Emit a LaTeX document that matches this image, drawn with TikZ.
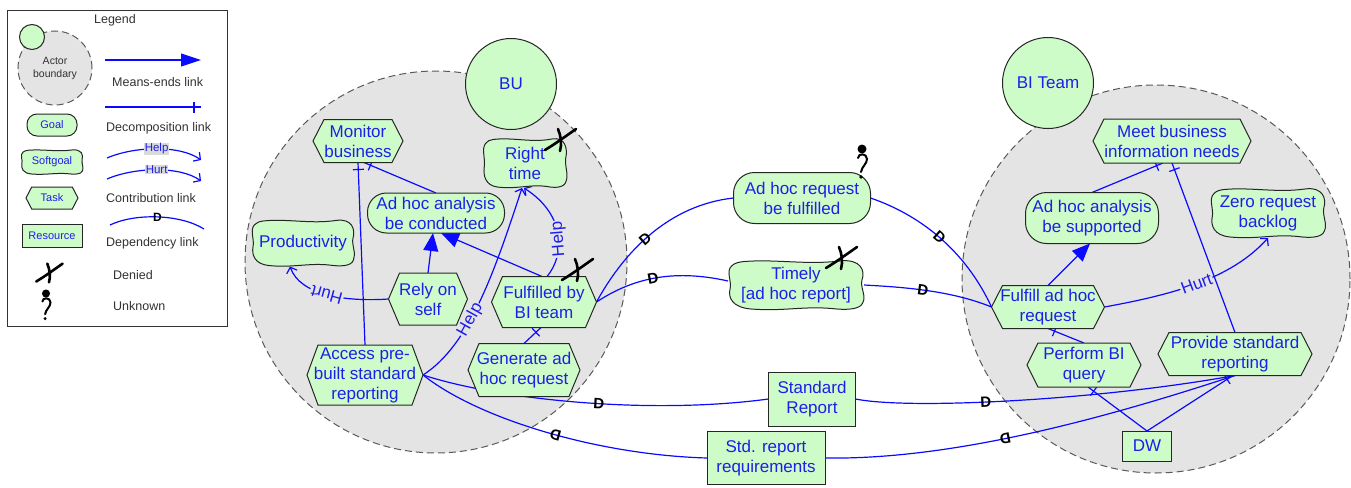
\documentclass[tikz,border=0pt]{standalone}
\usepackage{fontspec}
\setmainfont{Liberation Sans}
\usetikzlibrary{arrows.meta,decorations.markings}

\definecolor{goalgreen}{RGB}{206,252,200}
\definecolor{actorgray}{RGB}{228,228,228}
\definecolor{linkblue}{RGB}{10,10,255}
\definecolor{labelblue}{RGB}{30,30,235}
\definecolor{legendtext}{RGB}{50,50,50}
\definecolor{tagback}{RGB}{218,218,218}

% ---- element shapes: task hexagon and softgoal cloud ----
\makeatletter
\newdimen\shX \newdimen\shY \newdimen\shW \newdimen\shH \newdimen\shD
\def\shgetbox{%
  \southwest \shX=\pgf@x \shY=\pgf@y
  \northeast \shW=\pgf@x \advance\shW by -\shX
  \shH=\pgf@y \advance\shH by -\shY}
\def\shpt#1#2{\pgfpoint{\shX+(#1)*\shW}{\shY+(#2)*\shH}}
\pgfdeclareshape{taskhex}{%
  \inheritsavedanchors[from=rectangle]%
  \inheritanchorborder[from=rectangle]%
  \inheritanchor[from=rectangle]{center}%
  \inheritanchor[from=rectangle]{base}%
  \inheritanchor[from=rectangle]{mid}%
  \inheritanchor[from=rectangle]{north}%
  \inheritanchor[from=rectangle]{south}%
  \inheritanchor[from=rectangle]{east}%
  \inheritanchor[from=rectangle]{west}%
  \inheritanchor[from=rectangle]{north east}%
  \inheritanchor[from=rectangle]{north west}%
  \inheritanchor[from=rectangle]{south east}%
  \inheritanchor[from=rectangle]{south west}%
  \backgroundpath{%
    \shgetbox
    \pgfmathsetlength\shD{min(11,0.26*\shH)}%
    \pgfpathmoveto{\pgfpoint{\shX}{\shY+0.5*\shH}}%
    \pgfpathlineto{\pgfpoint{\shX+\shD}{\shY+\shH}}%
    \pgfpathlineto{\pgfpoint{\shX+\shW-\shD}{\shY+\shH}}%
    \pgfpathlineto{\pgfpoint{\shX+\shW}{\shY+0.5*\shH}}%
    \pgfpathlineto{\pgfpoint{\shX+\shW-\shD}{\shY}}%
    \pgfpathlineto{\pgfpoint{\shX+\shD}{\shY}}%
    \pgfpathclose
  }%
}
\pgfdeclareshape{softgoalshape}{%
  \inheritsavedanchors[from=rectangle]%
  \inheritanchorborder[from=rectangle]%
  \inheritanchor[from=rectangle]{center}%
  \inheritanchor[from=rectangle]{base}%
  \inheritanchor[from=rectangle]{mid}%
  \inheritanchor[from=rectangle]{north}%
  \inheritanchor[from=rectangle]{south}%
  \inheritanchor[from=rectangle]{east}%
  \inheritanchor[from=rectangle]{west}%
  \inheritanchor[from=rectangle]{north east}%
  \inheritanchor[from=rectangle]{north west}%
  \inheritanchor[from=rectangle]{south east}%
  \inheritanchor[from=rectangle]{south west}%
  \backgroundpath{%
    \shgetbox
    \pgfpathmoveto{\shpt{0.12}{0.97}}%
    \pgfpathcurveto{\shpt{0.35}{1.02}}{\shpt{0.58}{0.90}}{\shpt{0.82}{0.98}}%
    \pgfpathcurveto{\shpt{0.98}{1.03}}{\shpt{1.01}{0.78}}{\shpt{0.985}{0.60}}%
    \pgfpathcurveto{\shpt{0.97}{0.45}}{\shpt{1.02}{0.28}}{\shpt{0.99}{0.14}}%
    \pgfpathcurveto{\shpt{0.97}{0.0}}{\shpt{0.86}{0.0}}{\shpt{0.76}{0.03}}%
    \pgfpathcurveto{\shpt{0.56}{0.08}}{\shpt{0.40}{-0.03}}{\shpt{0.17}{0.02}}%
    \pgfpathcurveto{\shpt{0.03}{0.05}}{\shpt{0.0}{0.25}}{\shpt{0.015}{0.42}}%
    \pgfpathcurveto{\shpt{0.03}{0.58}}{\shpt{-0.02}{0.78}}{\shpt{0.03}{0.89}}%
    \pgfpathcurveto{\shpt{0.05}{0.94}}{\shpt{0.08}{0.96}}{\shpt{0.12}{0.97}}%
    \pgfpathclose
  }%
}
\makeatother

\pgfdeclarelayer{boundary}
\pgfdeclarelayer{links}
\pgfsetlayers{boundary,links,main}

\tikzset{
  elem/.style={draw=black!85, line width=1pt, fill=goalgreen, text=labelblue,
    align=center, inner sep=0pt, outer sep=0pt, font=\fontsize{17}{20}\selectfont},
  sz/.style 2 args={minimum width=#1pt, minimum height=#2pt},
  gGoal/.style={elem, rectangle, rounded corners=19pt},
  gSoft/.style={elem, shape=softgoalshape},
  gTask/.style={elem, shape=taskhex},
  gRes/.style={elem, rectangle},
  gActor/.style={elem, circle, minimum size=91pt},
  gBound/.style={circle, draw=black!65, dash pattern=on 7pt off 4pt,
    line width=1pt, fill=actorgray, inner sep=0pt},
  lnk/.style={draw=linkblue, line width=1.2pt},
  lnkMe/.style={lnk, -{Triangle[length=18pt,width=15pt]}},
  lnkContrib/.style={lnk, -{Straight Barb[length=5pt,width=11pt]}},
  lnkDec/.style={lnk, postaction={decorate, decoration={markings,
    mark=at position -7pt with {\draw[linkblue, line width=1.2pt] (0,-5.5pt)--(0,5.5pt);}}}},
  dlabel/.style={font=\fontsize{15}{15}\selectfont\bfseries, text=black, sloped,
    allow upside down, inner sep=0pt},
  clabel/.style={font=\fontsize{17}{17}\selectfont, text=labelblue, sloped,
    allow upside down, fill=actorgray, inner sep=1pt},
  legendtxt/.style={text=legendtext, font=\fontsize{12.5}{14}\selectfont, inner sep=0pt},
  denied/.pic={
    \draw[line width=2.6pt, line cap=round] (-15,10) .. controls (-5,4) and (6,-4) .. (16,-11);
    \draw[line width=2.6pt, line cap=round] (-2,-11) .. controls (1,-4) and (2,4) .. (0,11);
  },
  unknown/.pic={
    \fill (0,-15) circle (4.5pt);
    \draw[line width=2pt, line cap=round] (-4,-6) .. controls (-4,-11) and (5,-11) .. (5,-5)
      .. controls (5,0) and (0,2) .. (-1,8);
    \fill (-1,13) circle (1.8pt);
  }
}

\begin{document}
\begin{tikzpicture}[x=1pt, y=-1pt]
\useasboundingbox (0,0) rectangle (1351,487);

% ================= legend =================
\node[draw=black!80, line width=0.8pt, minimum width=220pt, minimum height=316pt,
  inner sep=0pt, anchor=north west] (legendbox) at (7,10) {};
\node[legendtxt] (legendtitle) at (115,20) {Legend};
\node[gBound, minimum size=74pt] (lgbound) at (55,68) {};
\node[elem, circle, minimum size=25pt] (lgactor) at (32,37) {};
\node[text=legendtext, font=\fontsize{10.5}{13}\selectfont, align=center, inner sep=0pt]
  (lgboundtxt) at (55,68) {Actor\\boundary};

\node[gGoal, sz={50}{22}, rounded corners=10pt, font=\fontsize{11}{13}\selectfont] (lggoal) at (52,125) {Goal};
\node[gSoft, sz={62}{25}, font=\fontsize{11}{13}\selectfont] (lgsoft) at (52,162) {Softgoal};
\node[gTask, sz={52}{22}, font=\fontsize{11}{13}\selectfont] (lgtask) at (52,198) {Task};
\node[gRes, sz={60}{23}, font=\fontsize{11}{13}\selectfont] (lgres) at (52,236) {Resource};

\coordinate (lgme1) at (105,60);   \coordinate (lgme2) at (201,60);
\coordinate (lgdc1) at (105,107);  \coordinate (lgdc2) at (201,107);
\coordinate (lghe1) at (107,158);  \coordinate (lghe2) at (201,160);
\coordinate (lghu1) at (107,179);  \coordinate (lghu2) at (201,181);
\coordinate (lgdp1) at (110,225);  \coordinate (lgdp2) at (204,229);

\node[legendtxt, anchor=west] (lgmetxt) at (112,82) {Means-ends link};
\node[legendtxt, anchor=west] (lgdctxt) at (106,128) {Decomposition link};
\node[legendtxt, anchor=west] (lgcttxt) at (106,198) {Contribution link};
\node[legendtxt, anchor=west] (lgdptxt) at (106,243) {Dependency link};
\node[legendtxt, anchor=west] (lgdntxt) at (113,275) {Denied};
\node[legendtxt, anchor=west] (lguktxt) at (113,306) {Unknown};

\pic[scale=0.85] at (49,273) {denied};
\pic[scale=0.9] at (46,307) {unknown};

% ================= actor boundaries =================
\begin{pgfonlayer}{boundary}
  \node[gBound, minimum size=382pt] (buboundary) at (436,262) {};
  \node[gBound, minimum size=388pt] (biboundary) at (1156,279) {};
\end{pgfonlayer}

\node[gActor] (bu) at (511,84) {BU};
\node[gActor] (biteam) at (1048,83) {BI Team};

% ================= BU elements =================
\node[gTask, sz={90}{43}] (monitor) at (358,141) {Monitor\\business};
\node[gSoft, sz={84}{50}] (righttime) at (525,163) {Right\\time};
\node[gGoal, sz={137}{40}] (adhocconducted) at (436,213) {Ad hoc analysis\\be conducted};
\node[gSoft, sz={103}{47}] (productivity) at (303,243) {Productivity};
\node[gTask, sz={79}{52}] (rely) at (428,299) {Rely on\\self};
\node[gTask, sz={105}{51}] (fulfilledbi) at (544,302) {Fulfilled by\\BI team};
\node[gTask, sz={116}{60}] (access) at (365,375) {Access pre-\\built standard\\reporting};
\node[gTask, sz={112}{53}] (generate) at (524,370) {Generate ad\\hoc request};

% ================= dependums =================
\node[gGoal, sz={137}{51}, rounded corners=21pt] (adhocreq) at (802,198) {Ad hoc request\\be fulfilled};
\node[gSoft, sz={136}{50}] (timely) at (796,285) {Timely\\{[ad hoc report]}};
\node[gRes, sz={87}{54}] (stdreport) at (812,399) {Standard\\Report};
\node[gRes, sz={118}{53}] (stdreq) at (766,458) {Std. report\\requirements};

% ================= BI Team elements =================
\node[gTask, sz={158}{44}] (meet) at (1172,141) {Meet business\\information needs};
\node[gGoal, sz={133}{51}, rounded corners=21pt] (adhocsupported) at (1092,218) {Ad hoc analysis\\be supported};
\node[gSoft, sz={115}{50}] (zero) at (1268,213) {Zero request\\backlog};
\node[gTask, sz={113}{43}] (fulfill) at (1048,307) {Fulfill ad hoc\\request};
\node[gTask, sz={114}{44}] (perform) at (1084,365) {Perform BI\\query};
\node[gTask, sz={154}{43}] (provide) at (1235,354) {Provide standard\\reporting};
\node[gRes, sz={49}{30}] (dw) at (1147,446) {DW};

% ================= links =================
\begin{pgfonlayer}{links}
  % legend samples
  \draw[lnk, -{Triangle[length=20pt,width=13pt]}] (lgme1) -- (lgme2);
  \draw[lnkDec] (lgdc1) -- (lgdc2);
  \draw[lnkContrib] (lghe1) .. controls (135,146) and (180,145) .. (lghe2)
    node[pos=0.5, fill=tagback, inner sep=0.5pt, text=labelblue, font=\fontsize{11.5}{11.5}\selectfont] {Help};
  \draw[lnkContrib] (lghu1) .. controls (135,167) and (180,166) .. (lghu2)
    node[pos=0.5, fill=tagback, inner sep=0.5pt, text=labelblue, font=\fontsize{11.5}{11.5}\selectfont] {Hurt};
  \draw[lnk] (lgdp1) .. controls (135,213) and (180,214) .. (lgdp2)
    node[pos=0.5, text=black, inner sep=0pt, font=\fontsize{12}{12}\selectfont\bfseries] {D};

  % BU internal
  \draw[lnkDec] (access.north) -- (monitor.south);
  \draw[lnkDec] (adhocconducted.north) -- ([xshift=6pt]monitor.south);
  \draw[lnkMe] (rely.north) -- ([xshift=-3pt]adhocconducted.south);
  \draw[lnkMe] ([xshift=-2pt]fulfilledbi.north) -- ([xshift=5pt]adhocconducted.south);
  \draw[lnkContrib] ([xshift=3pt]fulfilledbi.north) .. controls (565,255) and (566,215) ..
    ([xshift=-1pt]righttime.south) node[clabel, pos=0.45] {Help};
  \draw[lnkContrib] (access.east) .. controls (470,345) and (495,270) ..
    ([xshift=-3pt]righttime.south) node[clabel, pos=0.40] {Help};
  \draw[lnkContrib] (rely.west) .. controls (345,302) and (300,295) ..
    ([xshift=-13pt]productivity.south) node[clabel, pos=0.5] {Hurt};
  \draw[lnkDec] (generate.north) -- ([xshift=-3pt]fulfilledbi.south);

  % dependencies
  \draw[lnk] (fulfilledbi.east) .. controls (625,250) and (670,205) .. (adhocreq.west)
    node[dlabel, pos=0.45] {D};
  \draw[lnk] (fulfilledbi.east) .. controls (630,280) and (670,268) .. ([yshift=4pt]timely.west)
    node[dlabel, pos=0.5] {D};
  \draw[lnk] (adhocreq.east) .. controls (920,215) and (965,250) .. (fulfill.west)
    node[dlabel, pos=0.5] {D};
  \draw[lnk] (timely.east) .. controls (900,287) and (950,290) .. (fulfill.west)
    node[dlabel, pos=0.48] {D};
  \draw[lnk] (access.east) .. controls (500,400) and (650,415) .. (stdreport.west)
    node[dlabel, pos=0.55] {D};
  \draw[lnk] (stdreport.east) .. controls (910,410) and (1100,400) .. (provide.south)
    node[dlabel, pos=0.43] {D};
  \draw[lnk] (provide.south) .. controls (1100,420) and (950,460) .. (stdreq.east)
    node[dlabel, pos=0.55] {D};
  \draw[lnk] (stdreq.west) .. controls (600,455) and (480,420) .. (access.east)
    node[dlabel, pos=0.47] {D};

  % BI Team internal
  \draw[lnkMe] (fulfill.north) -- ([xshift=-2pt]adhocsupported.south);
  \draw[lnkDec] (adhocsupported.north) -- ([xshift=-9pt]meet.south);
  \draw[lnkDec] (provide.north) -- (meet.south);
  \draw[lnkContrib] (fulfill.east) .. controls (1170,295) and (1230,280) .. (zero.south)
    node[clabel, pos=0.5] {Hurt};
  \draw[lnkDec] (perform.north) -- (fulfill.south);
  \draw[lnkDec] (dw.north) -- ([xshift=4pt]perform.south);
  \draw[lnkDec] (dw.north) -- ([xshift=-2pt]provide.south);
\end{pgfonlayer}

% ================= evaluation marks =================
\pic at (560,140) {denied};
\pic at (577,270) {denied};
\pic at (841,258) {denied};
\pic at (862,164) {unknown};
\end{tikzpicture}
\end{document}
